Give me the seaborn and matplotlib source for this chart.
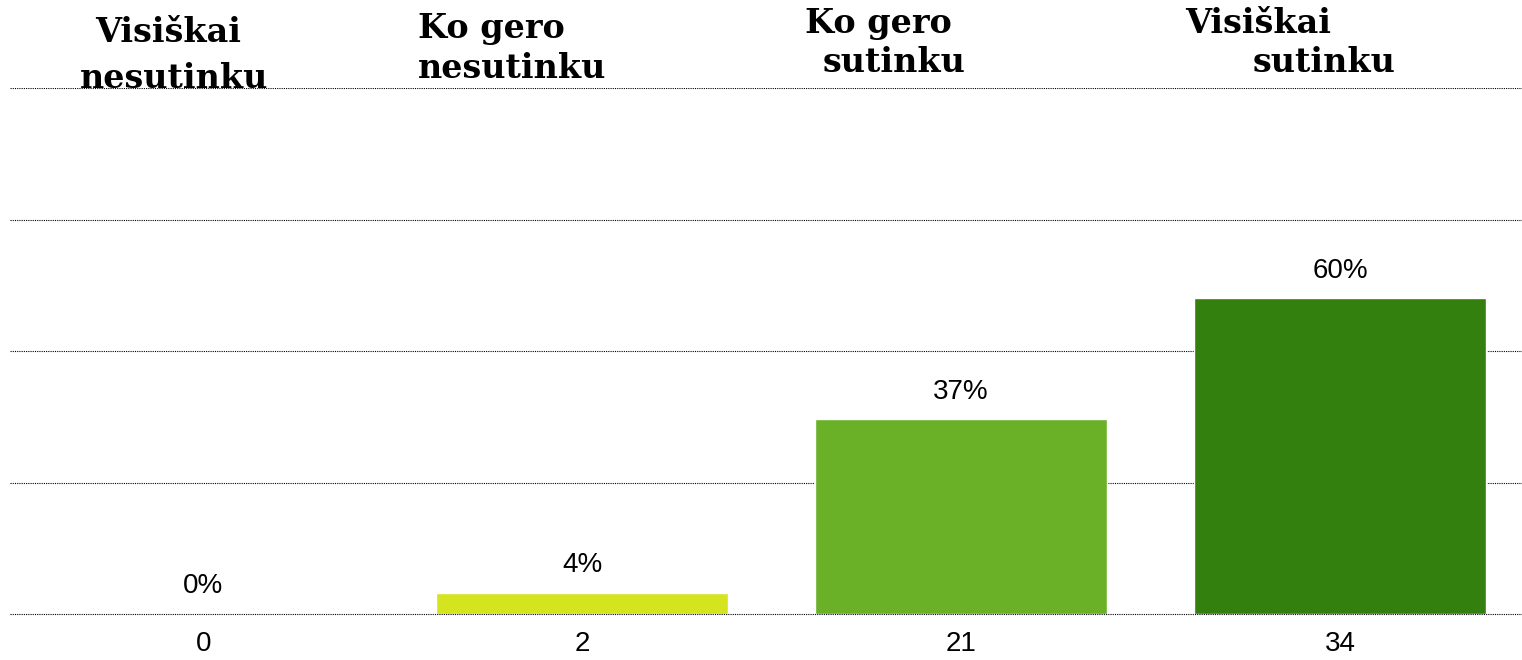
import pandas as pd
import matplotlib.pyplot as plt
import seaborn as sns

# answer counts and their shares
counts = ["0", "2", "21", "34"]
percents = [0, 4, 37, 60]
headers = [("Visiškai", "nesutinku"), ("Ko gero", "nesutinku"),
           ("Ko gero", "sutinku"), ("Visiškai", "sutinku")]
colors = ["#D4E41E", "#D4E41E", "#6AB128", "#33800F"]

df = pd.DataFrame({"count": counts, "pct": percents})

sns.set_style("white")
plt.rcParams["text.color"] = "black"
plt.rcParams["xtick.color"] = "black"
num_font = ["Liberation Sans", "DejaVu Sans"]

fig = plt.figure(figsize=(15.22, 6.6), dpi=100)
ax = fig.add_axes([10 / 1522, 46 / 660, 1 - 10 / 1522, (614 - 88) / 660])

sns.barplot(data=df, x="count", y="pct", hue="count", palette=colors,
            legend=False, width=0.77, saturation=1, ax=ax)

ax.set_ylim(0, 100)
ax.set_xlim(-0.51, 3.48)
ax.set_yticks([25, 50, 75, 100])
ax.set_yticklabels([])
ax.set_axisbelow(True)
ax.grid(axis="y", color="black", linestyle=(0, (1, 1)), linewidth=0.8)
ax.grid(axis="x", visible=False)
ax.axhline(0, color="black", linestyle=(0, (1, 1)), linewidth=0.8,
           zorder=5, clip_on=False)
for s in ax.spines.values():
    s.set_visible(False)
ax.set_xlabel("")
ax.set_ylabel("")
ax.tick_params(axis="both", length=0)
ax.tick_params(axis="x", pad=12)
for lab in ax.get_xticklabels():
    lab.set_family(num_font)
    lab.set_fontsize(20)

for i, p in enumerate(percents):
    ax.annotate(f"{p}%", (i, p), xytext=(0, 20), textcoords="offset points",
                ha="center", va="center", fontsize=20, family=num_font)

# header labels above the plot (left edge / baseline in pixels)
pos = [((95, 42), (80, 88)), ((418, 38), (418, 78)),
       ((805, 33), (823, 72)), ((1185, 33), (1253, 72))]
for (l1, l2), ((x1, y1), (x2, y2)) in zip(headers, pos):
    fig.text(x1 / 1522, 1 - y1 / 660, l1, ha="left", va="baseline",
             fontsize=24, fontweight="bold", family="DejaVu Serif")
    fig.text(x2 / 1522, 1 - y2 / 660, l2, ha="left", va="baseline",
             fontsize=24, fontweight="bold", family="DejaVu Serif")

fig.savefig("out.png", dpi=100)
